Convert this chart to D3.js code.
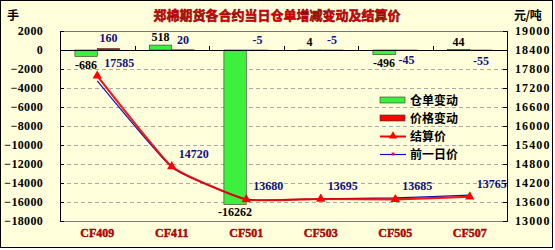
<!DOCTYPE html>
<html>
<head>
<meta charset="utf-8">
<script src="https://d3js.org/d3.v7.min.js"></script>
<style>
  body { margin: 0; background: #fff; }
  text { font-family: "Liberation Serif", "DejaVu Serif", serif; font-weight: bold; }
  .cjk { font-family: "Noto Sans CJK SC", sans-serif; font-weight: bold; }
</style>
</head>
<body>
<svg id="chart" width="555" height="250"></svg>
<script>
// data
var contracts = ["CF409", "CF411", "CF501", "CF503", "CF505", "CF507"];
var receiptChange = [-686, 518, -16262, 4, -496, 44];     // 仓单变动
var priceChange = [160, 20, -5, -5, -45, -55];            // 价格变动
var settlePrice = [17585, 14720, 13680, 13695, 13685, 13765]; // 结算价
var prevPrice = [17425, 14700, 13685, 13700, 13730, 13820];   // 前一日价
var leftTicks = [2000, 0, -2000, -4000, -6000, -8000, -10000, -12000, -14000, -16000, -18000];
var rightTicks = [19000, 18400, 17800, 17200, 16600, 16000, 15400, 14800, 14200, 13600, 13000];

var svg = d3.select("#chart");
var pLeft = 60, pRight = 507, pTop = 31, pBottom = 221;

// background + border
svg.append("rect").attr("x", 0.5).attr("y", 0.5).attr("width", 552).attr("height", 247)
  .attr("fill", "#ffffdc").attr("stroke", "#000");

var x0 = d3.scaleBand().domain(contracts).range([pLeft, pRight]).paddingInner(0.4).paddingOuter(0.2);
var x1 = d3.scaleBand().domain(["r", "p"]).range([0, x0.bandwidth()]);
var yL = d3.scaleLinear().domain([-18000, 2000]).range([pBottom, pTop]);
var yR = d3.scaleLinear().domain([13000, 19000]).range([pBottom, pTop]);
var cx = function(i) { return x0(contracts[i]) + x0.bandwidth() / 2; };

// grid
svg.append("g").selectAll("line").data(leftTicks.filter(function(d) { return d < 0 && d > -18000; }))
  .enter().append("line")
  .attr("x1", pLeft).attr("x2", pRight)
  .attr("y1", function(d) { return Math.round(yL(d)) + 0.5; })
  .attr("y2", function(d) { return Math.round(yL(d)) + 0.5; })
  .attr("stroke", "#aaa").attr("stroke-dasharray", "4,3");

// frame
svg.append("rect").attr("x", pLeft + 0.5).attr("y", pTop + 0.5)
  .attr("width", pRight - pLeft).attr("height", pBottom - pTop)
  .attr("fill", "none").attr("stroke", "#777");

// axes
var la = svg.append("g").attr("transform", "translate(" + pLeft + ",0)")
  .call(d3.axisLeft(yL).tickValues(leftTicks).tickSize(-4).tickPadding(17).tickFormat(d3.format("d")));
var ra = svg.append("g").attr("transform", "translate(" + pRight + ",0)")
  .call(d3.axisRight(yR).tickValues(rightTicks).tickSize(-4).tickPadding(8).tickFormat(d3.format("d")));
[la, ra].forEach(function(a) {
  a.select(".domain").attr("stroke", "#000");
  a.selectAll(".tick line").attr("stroke", "#000");
  a.selectAll("text").attr("font-size", 12).attr("fill", "#000")
    .style("font-family", "Liberation Serif").style("font-weight", "bold");
});
la.selectAll("text").attr("letter-spacing", 0.3);
ra.selectAll("text").attr("letter-spacing", 1.1);

// bars
var bars = svg.append("g");
contracts.forEach(function(c, i) {
  [["r", receiptChange[i], "#3ef03e"], ["p", priceChange[i], "#ff0000"]].forEach(function(s) {
    var v = s[1];
    bars.append("rect")
      .attr("x", x0(c) + x1(s[0]))
      .attr("y", Math.min(yL(v), yL(0)))
      .attr("width", x1.bandwidth())
      .attr("height", Math.max(Math.abs(yL(v) - yL(0)), 0.6))
      .attr("fill", s[2]).attr("stroke", "#333").attr("stroke-width", 0.6);
  });
});

// zero line with category ticks
svg.append("line").attr("x1", pLeft).attr("x2", pRight)
  .attr("y1", Math.round(yL(0)) + 0.5).attr("y2", Math.round(yL(0)) + 0.5).attr("stroke", "#000");
svg.append("g").selectAll("line").data(d3.range(1, contracts.length)).enter().append("line")
  .attr("x1", function(i) { return Math.round(x0(contracts[i]) - x0.step() * 0.2) + 0.5; })
  .attr("x2", function(i) { return Math.round(x0(contracts[i]) - x0.step() * 0.2) + 0.5; })
  .attr("y1", yL(0)).attr("y2", yL(0) - 4).attr("stroke", "#000");

// lines (lightly smoothed)
var lineR = d3.line().x(function(d, i) { return cx(i); }).y(function(d) { return yR(d); }).curve(d3.curveCardinal.tension(0.6));
svg.append("path").datum(prevPrice).attr("d", lineR).attr("fill", "none").attr("stroke", "#1010c0").attr("stroke-width", 1.2);
svg.append("path").datum(settlePrice).attr("d", lineR).attr("fill", "none").attr("stroke", "#ee0000").attr("stroke-width", 2.2).attr("opacity", 0.9);
var tri = d3.symbol().type(d3.symbolTriangle).size(38);
svg.append("g").selectAll("path").data(settlePrice).enter().append("path")
  .attr("d", tri).attr("fill", "#ff0000")
  .attr("transform", function(d, i) { return "translate(" + cx(i) + "," + yR(d) + ")"; });

// value labels
var labels = svg.append("g").attr("font-size", 12);
contracts.forEach(function(c, i) {
  var v = receiptChange[i];
  labels.append("text").attr("x", x0(c) + x1("r") + x1.bandwidth() / 2)
    .attr("y", v >= 0 ? yL(v) - 4 : yL(v) + 12)
    .attr("text-anchor", "middle").attr("fill", "#000").text(v);
  var p = priceChange[i];
  labels.append("text").attr("x", x0(c) + x1("p") + x1.bandwidth() / 2)
    .attr("y", p > -10 ? yL(Math.max(p, 0)) - 6 : yL(p) + 14)
    .attr("text-anchor", "middle").attr("fill", "#101080").text(p);
  labels.append("text").attr("x", cx(i) + 7).attr("y", yR(settlePrice[i]) - 9)
    .attr("fill", "#101080").text(settlePrice[i]);
});

// category labels
svg.append("g").selectAll("text").data(contracts).enter().append("text")
  .attr("x", function(d) { return x0(d) + x0.bandwidth() / 2; }).attr("y", 237)
  .attr("text-anchor", "middle").attr("font-size", 12).attr("fill", "#cc0000")
  .attr("stroke", "#800000").attr("stroke-width", 0.4)
  .text(function(d) { return d; });

// title and units
svg.append("text").attr("class", "cjk").attr("x", 277).attr("y", 20).attr("text-anchor", "middle")
  .attr("font-size", 13).attr("fill", "#ee0000").attr("stroke", "#700000").attr("stroke-width", 0.5)
  .text("郑棉期货各合约当日仓单增减变动及结算价");
svg.append("text").attr("class", "cjk").attr("x", 7).attr("y", 20).attr("font-size", 12).text("手");
svg.append("text").attr("class", "cjk").attr("x", 514).attr("y", 20).attr("font-size", 12).attr("letter-spacing", -0.5).text("元/吨");

// legend
var legendItems = ["仓单变动", "价格变动", "结算价", "前一日价"];
var lg = svg.append("g").attr("transform", "translate(380,100)");
legendItems.forEach(function(name, i) {
  var g = lg.append("g").attr("transform", "translate(0," + (i * 18) + ")");
  if (i < 2) {
    g.append("rect").attr("x", 0).attr("y", -3).attr("width", 25).attr("height", 6)
      .attr("fill", i === 0 ? "#3ef03e" : "#ff0000").attr("stroke", "#333").attr("stroke-width", 0.6);
  } else {
    g.append("line").attr("x1", 0).attr("x2", 26).attr("y1", 0.5).attr("y2", 0.5)
      .attr("stroke", i === 2 ? "#ee0000" : "#1010c0").attr("stroke-width", i === 2 ? 2 : 1.2);
    g.append("path").attr("d", d3.symbol().type(i === 2 ? d3.symbolTriangle : d3.symbolSquare).size(i === 2 ? 30 : 8))
      .attr("transform", "translate(13,0)").attr("fill", "#ff0000");
  }
  g.append("text").attr("class", "cjk").attr("x", 30).attr("y", 5).attr("font-size", 12).text(name);
});
</script>
</body>
</html>
